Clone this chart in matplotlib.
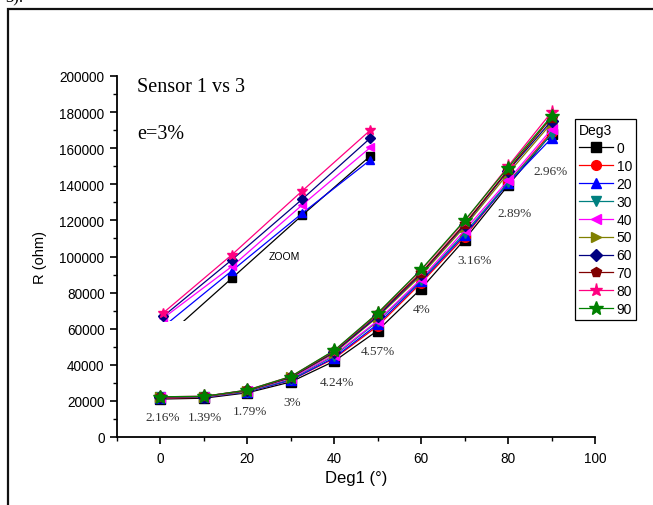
import matplotlib
matplotlib.use("Agg")
import matplotlib.pyplot as plt
from matplotlib.ticker import MultipleLocator
from matplotlib.patches import Rectangle

# ---------------- data ----------------
deg1 = [0, 10, 20, 30, 40, 50, 60, 70, 80, 90]
deg3_labels = ["0", "10", "20", "30", "40", "50", "60", "70", "80", "90"]

r_0 = [21000, 21500, 24500, 30500, 42000, 59000, 82200, 109400, 139400, 168000]
r_10 = [21500, 22000, 25000, 31500, 43500, 61500, 85400, 111000, 141000, 169000]
r_20 = [21800, 22000, 25000, 31500, 44000, 62500, 86300, 112000, 140500, 165500]
r_30 = [22000, 22200, 25200, 32000, 45000, 64000, 87000, 113000, 141000, 167800]
r_40 = [22000, 22200, 25500, 32500, 45500, 64500, 87600, 114500, 142200, 170500]
r_50 = [22200, 22300, 25500, 33000, 46500, 66500, 89500, 116500, 146000, 173900]
r_60 = [22200, 22400, 25800, 33000, 47000, 67000, 90500, 117500, 147500, 175200]
r_70 = [22300, 22500, 25800, 33200, 47500, 68000, 91000, 118000, 148000, 177000]
r_80 = [22300, 22500, 26000, 33500, 47800, 68500, 92500, 119500, 150000, 180000]
r_90 = [22300, 22500, 26000, 33500, 48000, 68700, 92800, 120000, 149300, 177800]
series = [r_0, r_10, r_20, r_30, r_40, r_50, r_60, r_70, r_80, r_90]

err_labels = ["2.16%", "1.39%", "1.79%", "3%", "4.24%", "4.57%", "4%", "3.16%", "2.89%", "2.96%"]
err_x = [0.4, 10.3, 20.7, 30.3, 40.5, 50.0, 60.2, 72.2, 81.6, 89.7]
err_y = [11300, 11300, 14600, 19600, 30700, 47900, 71100, 98200, 124300, 147400]

# zoom (inset) lines
zoom_x = [0.6, 16.5, 32.6, 48.3]
zoom_0 = [54000, 88100, 122800, 155700]
zoom_20 = [61000, 92200, 123900, 153500]
zoom_40 = [65800, 94600, 128500, 160400]
zoom_60 = [66800, 98300, 131700, 165600]
zoom_80 = [68700, 101100, 136300, 170000]
zoom_series = [(zoom_0, 0), (zoom_20, 2), (zoom_40, 4), (zoom_60, 6), (zoom_80, 8)]
zoom_floor = 64500

# ---------------- style ----------------
colors = ["#000000", "#FF0000", "#0000FF", "#008080", "#FF00FF",
          "#808000", "#000080", "#800000", "#FF0080", "#008000"]
markers = ["s", "o", "^", "v", "<", ">", "D", "p", "*", "*"]
msizes = [6.5, 7, 7, 7, 7, 7, 6, 7, 9.5, 10]

plt.rcParams["font.family"] = ["Liberation Sans", "DejaVu Sans"]
serif = ["Liberation Serif", "DejaVu Serif"]

fig = plt.figure(figsize=(6.53, 5.06), dpi=100)
W, H = 653.0, 506.0
ax = fig.add_axes([117 / W, (H - 438) / H, (595 - 117) / W, (438 - 77) / H])

handles = []
for i, ys in enumerate(series):
    h, = ax.plot(deg1, ys, color=colors[i], lw=0.9, marker=markers[i],
                 ms=msizes[i], mfc=colors[i], mec=colors[i], label=deg3_labels[i],
                 zorder=3 + i * 0.1)
    handles.append(h)

clip = Rectangle((-10, zoom_floor), 120, 300000, transform=ax.transData)
for ys, ci in zoom_series:
    ln, = ax.plot(zoom_x, ys, color=colors[ci], lw=0.9, marker=markers[ci],
                  ms=msizes[ci] * 0.8, mfc=colors[ci], mec=colors[ci], zorder=2)
    ln.set_clip_path(clip)

for t, x, y in zip(err_labels, err_x, err_y):
    ax.text(x, y, t, ha="center", va="center", fontsize=9.5,
            family=serif, color="#333333")

ax.text(0.042, 0.972, "Sensor 1 vs 3", transform=ax.transAxes, fontsize=14.5,
        family=serif, ha="left", va="center")
ax.text(0.042, 0.842, "e=3%", transform=ax.transAxes, fontsize=14.5,
        family=serif, ha="left", va="center")
ax.text(28.5, 100500, "ZOOM", fontsize=7.5, ha="center", va="center")

ax.set_xlim(-10, 100)
ax.set_ylim(0, 200000)
ax.xaxis.set_major_locator(MultipleLocator(20))
ax.xaxis.set_minor_locator(MultipleLocator(10))
ax.yaxis.set_major_locator(MultipleLocator(20000))
ax.yaxis.set_minor_locator(MultipleLocator(10000))
for s in ["top", "right"]:
    ax.spines[s].set_visible(False)
for s in ["left", "bottom"]:
    ax.spines[s].set_linewidth(1.3)
ax.tick_params(which="major", direction="out", length=5, width=1.2, labelsize=9.8, pad=4)
ax.tick_params(which="minor", direction="out", length=3, width=1.0)
ax.tick_params(axis="x", which="major", pad=5)

ax.set_xlabel("Deg1 (°)", fontsize=12, labelpad=4)
ax.set_ylabel("R (ohm)", fontsize=10.5, labelpad=9)

leg = fig.legend(handles=handles, title="Deg3", loc="upper left",
                 bbox_to_anchor=(575 / W, 1 - 120 / H), fontsize=10,
                 title_fontsize=10, alignment="left", frameon=True,
                 fancybox=False, edgecolor="black", framealpha=1,
                 handlelength=2.4, handletextpad=0.3, labelspacing=0.28,
                 borderpad=0.3, borderaxespad=0)
leg.get_frame().set_linewidth(0.9)

# page frame around the figure
fig.add_artist(Rectangle((8 / W, -0.2), 2.0, 1.2 - 10 / H, transform=fig.transFigure,
                         fill=False, lw=1.6, edgecolor="#111111"))
fig.text(5 / W, 1 - 2 / H, "3).", fontsize=12, va="baseline", ha="left",
         family=serif)

fig.savefig("out.png", dpi=100)
